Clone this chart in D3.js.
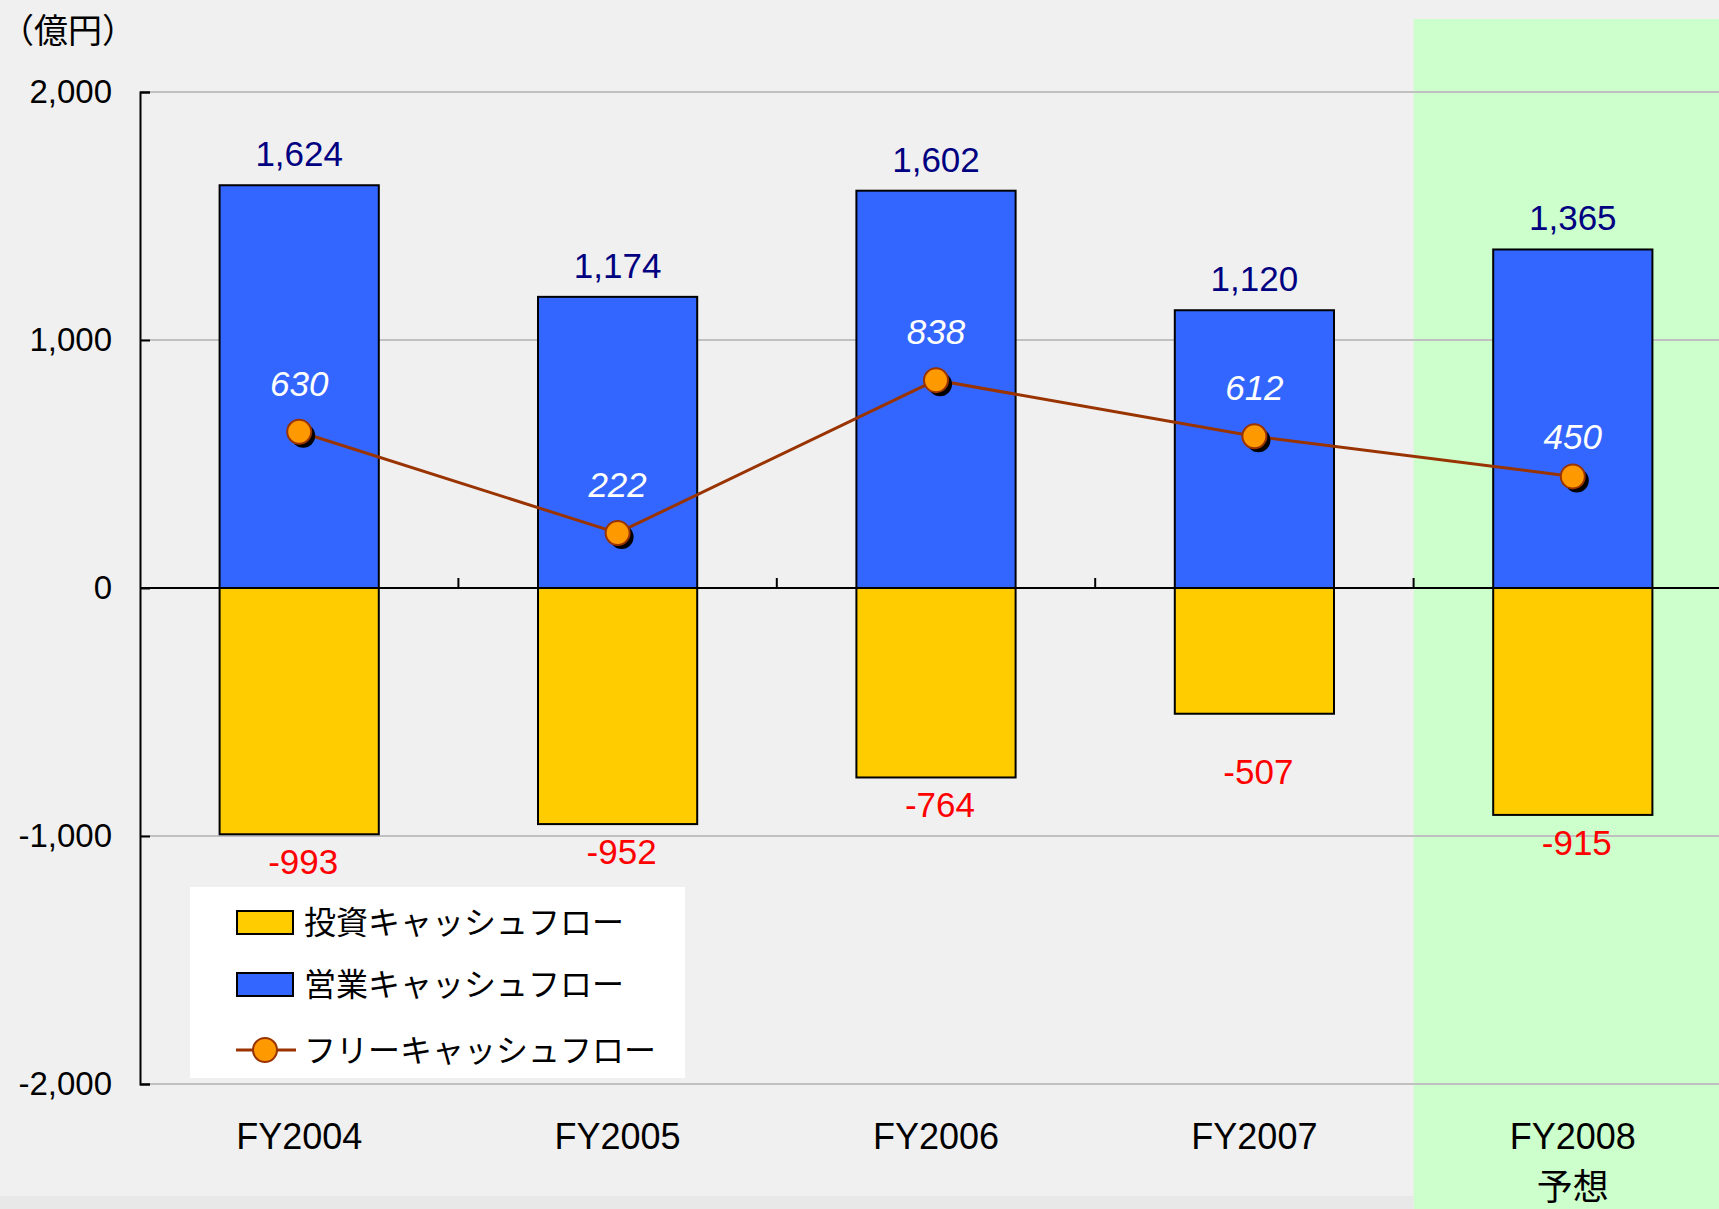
<!DOCTYPE html>
<html lang="ja">
<head>
    <meta charset="utf-8" />
    <title>キャッシュフロー</title>
    <script type="text/javascript" src="https://d3js.org/d3.v7.min.js"></script>
    <style>
        body { margin: 0; background: #f0f0f0; }
        svg { display: block; }
        text { font-family: "Liberation Sans", Arial, "Noto Sans CJK JP", sans-serif; }
        .jp { font-family: "Noto Sans CJK JP", "Liberation Sans", sans-serif; }
    </style>
</head>
<body>
    <script type="text/javascript">

        var categories = ["FY2004", "FY2005", "FY2006", "FY2007", "FY2008"];
        var operatingCF = [1624, 1174, 1602, 1120, 1365];
        var investingCF = [-993, -952, -764, -507, -915];
        var freeCF = [630, 222, 838, 612, 450];
        var yTicks = [-2000, -1000, 0, 1000, 2000];
        var seriesNames = ["投資キャッシュフロー", "営業キャッシュフロー", "フリーキャッシュフロー"];

        var w = 1719;
        var h = 1209;

        var svg = d3.select("body")
            .append("svg")
            .attr("width", w)
            .attr("height", h);

        var xScale = d3.scaleBand()
            .domain(categories)
            .range([140, 1732])
            .padding(0);

        var yScale = d3.scaleLinear()
            .domain([-2000, 2000])
            .range([1084, 92]);

        var bw = xScale.bandwidth() / 2;
        function cx(i) { return xScale(categories[i]) + xScale.bandwidth() / 2; }

        // excel style numbers, plain hyphen for minus
        var fmt = function (d) { return d3.format(",")(d).replace("\u2212", "-"); };

        // forecast band
        svg.append("rect")
            .attr("x", xScale("FY2008"))
            .attr("y", 19)
            .attr("width", w - xScale("FY2008"))
            .attr("height", h - 19)
            .attr("fill", "#ccffcc");

        svg.append("rect")
            .attr("x", 0)
            .attr("y", 1196)
            .attr("width", xScale("FY2008"))
            .attr("height", h - 1196)
            .attr("fill", "#e8e8e8");

        // gridlines
        svg.selectAll("line.grid")
            .data(yTicks.filter(function (d) { return d !== 0; }))
            .enter()
            .append("line")
            .attr("class", "grid")
            .attr("x1", 140)
            .attr("x2", w)
            .attr("y1", function (d) { return yScale(d); })
            .attr("y2", function (d) { return yScale(d); })
            .attr("stroke", "#c0c0c0")
            .attr("stroke-width", 2);

        // y axis
        var yAxis = d3.axisLeft(yScale)
            .tickValues(yTicks)
            .tickSize(-10)
            .tickPadding(28)
            .tickFormat(fmt);

        var gy = svg.append("g")
            .attr("transform", "translate(140,0)")
            .call(yAxis);
        gy.select(".domain").attr("stroke", "#000").attr("stroke-width", 2);
        gy.selectAll(".tick line").attr("stroke", "#000").attr("stroke-width", 2);
        gy.selectAll(".tick text")
            .attr("font-size", "33px")
            .attr("fill", "#000")
            .attr("font-family", "'Liberation Sans', Arial, sans-serif");

        // bars
        svg.selectAll("rect.inv")
            .data(investingCF)
            .enter()
            .append("rect")
            .attr("class", "inv")
            .attr("x", function (d, i) { return cx(i) - bw / 2; })
            .attr("y", yScale(0))
            .attr("width", bw)
            .attr("height", function (d) { return yScale(d) - yScale(0); })
            .attr("fill", "#ffcc00")
            .attr("stroke", "#000")
            .attr("stroke-width", 2);

        svg.selectAll("rect.op")
            .data(operatingCF)
            .enter()
            .append("rect")
            .attr("class", "op")
            .attr("x", function (d, i) { return cx(i) - bw / 2; })
            .attr("y", function (d) { return yScale(d); })
            .attr("width", bw)
            .attr("height", function (d) { return yScale(0) - yScale(d); })
            .attr("fill", "#3366ff")
            .attr("stroke", "#000")
            .attr("stroke-width", 2);

        // zero line + category ticks
        svg.append("line")
            .attr("x1", 140).attr("x2", w)
            .attr("y1", yScale(0)).attr("y2", yScale(0))
            .attr("stroke", "#000").attr("stroke-width", 2);

        svg.selectAll("line.xtick")
            .data(categories.slice(1))
            .enter()
            .append("line")
            .attr("class", "xtick")
            .attr("x1", function (d) { return xScale(d); })
            .attr("x2", function (d) { return xScale(d); })
            .attr("y1", yScale(0))
            .attr("y2", yScale(0) - 10)
            .attr("stroke", "#000").attr("stroke-width", 2);

        // free cash flow line
        var line = d3.line()
            .x(function (d, i) { return cx(i); })
            .y(function (d) { return yScale(d); });

        svg.append("path")
            .datum(freeCF)
            .attr("d", line)
            .attr("fill", "none")
            .attr("stroke", "#993300")
            .attr("stroke-width", 3);

        svg.selectAll("circle.shadow")
            .data(freeCF)
            .enter()
            .append("circle")
            .attr("class", "shadow")
            .attr("cx", function (d, i) { return cx(i) + 4; })
            .attr("cy", function (d) { return yScale(d) + 4; })
            .attr("r", 12)
            .attr("fill", "#000");

        svg.selectAll("circle.dot")
            .data(freeCF)
            .enter()
            .append("circle")
            .attr("class", "dot")
            .attr("cx", function (d, i) { return cx(i); })
            .attr("cy", function (d) { return yScale(d); })
            .attr("r", 12)
            .attr("fill", "#ff9900")
            .attr("stroke", "#993300")
            .attr("stroke-width", 2);

        // labels
        svg.selectAll("text.op")
            .data(operatingCF)
            .enter()
            .append("text")
            .attr("class", "op")
            .text(function (d) { return fmt(d); })
            .attr("x", function (d, i) { return cx(i); })
            .attr("y", function (d) { return yScale(d) - 19; })
            .attr("text-anchor", "middle")
            .attr("font-size", "35px")
            .attr("fill", "#000080");

        svg.selectAll("text.inv")
            .data(investingCF)
            .enter()
            .append("text")
            .attr("class", "inv")
            .text(function (d) { return fmt(d); })
            .attr("x", function (d, i) { return cx(i) + 4; })
            .attr("y", function (d, i) { return yScale(d) + 40 + (categories[i] === "FY2007" ? 30 : 0); })
            .attr("text-anchor", "middle")
            .attr("font-size", "35px")
            .attr("fill", "#ff0000");

        svg.selectAll("text.free")
            .data(freeCF)
            .enter()
            .append("text")
            .attr("class", "free")
            .text(function (d) { return fmt(d); })
            .attr("x", function (d, i) { return cx(i); })
            .attr("y", function (d, i) { return yScale(d) - (categories[i] === "FY2008" ? 27 : 36); })
            .attr("text-anchor", "middle")
            .attr("font-size", "35px")
            .attr("font-style", "italic")
            .attr("fill", "#ffffff");

        // category labels
        svg.selectAll("text.cat")
            .data(categories)
            .enter()
            .append("text")
            .attr("class", "cat")
            .text(function (d) { return d; })
            .attr("x", function (d) { return xScale(d) + xScale.bandwidth() / 2; })
            .attr("y", 1149)
            .attr("text-anchor", "middle")
            .attr("font-size", "36px")
            .attr("fill", "#000");

        svg.append("text")
            .attr("class", "jp")
            .text("予想")
            .attr("x", xScale("FY2008") + xScale.bandwidth() / 2)
            .attr("y", 1200)
            .attr("text-anchor", "middle")
            .attr("font-size", "36px")
            .attr("fill", "#000");

        // unit label
        svg.append("text")
            .attr("class", "jp")
            .text("（億円）")
            .attr("x", 0)
            .attr("y", 43)
            .attr("font-size", "34px")
            .attr("fill", "#000");

        // legend
        var legend = svg.append("g");
        legend.append("rect")
            .attr("x", 190).attr("y", 887)
            .attr("width", 495).attr("height", 191)
            .attr("fill", "#ffffff");

        var rowY = [922, 984, 1050];
        var swatch = ["#ffcc00", "#3366ff"];
        [0, 1].forEach(function (i) {
            legend.append("rect")
                .attr("x", 237).attr("y", rowY[i] - 11)
                .attr("width", 56).attr("height", 23)
                .attr("fill", swatch[i])
                .attr("stroke", "#000").attr("stroke-width", 2);
        });
        legend.append("line")
            .attr("x1", 236).attr("x2", 296)
            .attr("y1", rowY[2]).attr("y2", rowY[2])
            .attr("stroke", "#993300").attr("stroke-width", 3);
        legend.append("circle")
            .attr("cx", 265).attr("cy", rowY[2]).attr("r", 12)
            .attr("fill", "#ff9900").attr("stroke", "#993300").attr("stroke-width", 2);

        legend.selectAll("text")
            .data(seriesNames)
            .enter()
            .append("text")
            .attr("class", "jp")
            .text(function (d) { return d; })
            .attr("x", 304)
            .attr("y", function (d, i) { return rowY[i] + 12; })
            .attr("font-size", "32px")
            .attr("fill", "#000");

    </script>
</body>
</html>
